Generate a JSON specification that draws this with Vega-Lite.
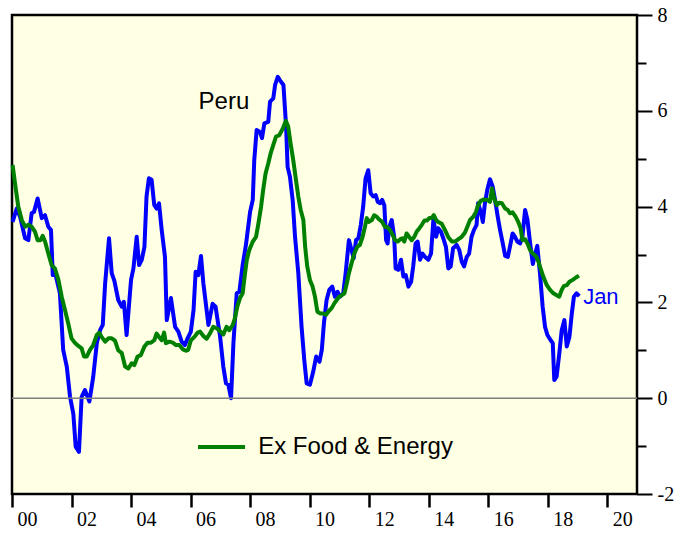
{
  "$schema": "https://vega.github.io/schema/vega-lite/v6.json",
  "width": 625,
  "height": 479,
  "padding": {"left": 10, "top": 5, "right": 5, "bottom": 0},
  "background": "white",
  "config": {"view": {"fill": "#FFFFE3", "stroke": "black", "strokeWidth": 2.5}},
  "datasets": {
    "blue": [
      {"t":2000.02,"v":3.68},{"t":2000.16,"v":3.96},{"t":2000.27,"v":3.79},{"t":2000.44,"v":3.34},{"t":2000.55,"v":3.30},
      {"t":2000.66,"v":3.86},{"t":2000.74,"v":3.89},{"t":2000.86,"v":4.17},{"t":2001.0,"v":3.76},{"t":2001.11,"v":3.82},
      {"t":2001.22,"v":3.58},{"t":2001.31,"v":3.51},{"t":2001.37,"v":2.57},{"t":2001.44,"v":2.64},{"t":2001.61,"v":2.19},
      {"t":2001.72,"v":1.01},{"t":2001.84,"v":0.66},{"t":2001.95,"v":0.03},{"t":2002.06,"v":-0.32},{"t":2002.14,"v":-1.01},
      {"t":2002.25,"v":-1.12},{"t":2002.34,"v":0.03},{"t":2002.45,"v":0.17},{"t":2002.6,"v":-0.07},{"t":2002.73,"v":0.45},
      {"t":2002.85,"v":1.15},{"t":2002.96,"v":1.42},{"t":2003.05,"v":1.53},{"t":2003.13,"v":2.40},{"t":2003.26,"v":3.34},
      {"t":2003.35,"v":2.61},{"t":2003.44,"v":2.45},{"t":2003.57,"v":2.05},{"t":2003.69,"v":1.91},{"t":2003.76,"v":2.01},
      {"t":2003.85,"v":1.32},{"t":2004.0,"v":2.47},{"t":2004.08,"v":2.71},{"t":2004.19,"v":3.37},{"t":2004.27,"v":2.78},
      {"t":2004.36,"v":2.89},{"t":2004.45,"v":3.16},{"t":2004.52,"v":4.21},{"t":2004.6,"v":4.59},{"t":2004.69,"v":4.56},
      {"t":2004.78,"v":4.03},{"t":2004.86,"v":3.96},{"t":2004.94,"v":4.07},{"t":2005.03,"v":3.51},{"t":2005.14,"v":2.95},
      {"t":2005.2,"v":1.63},{"t":2005.34,"v":2.09},{"t":2005.48,"v":1.49},{"t":2005.59,"v":1.39},{"t":2005.7,"v":1.18},
      {"t":2005.81,"v":1.11},{"t":2005.9,"v":1.25},{"t":2006.01,"v":1.39},{"t":2006.1,"v":1.84},{"t":2006.17,"v":2.64},
      {"t":2006.26,"v":2.57},{"t":2006.35,"v":2.97},{"t":2006.43,"v":2.40},{"t":2006.6,"v":1.53},{"t":2006.74,"v":1.97},
      {"t":2006.84,"v":1.91},{"t":2006.99,"v":1.30},{"t":2007.1,"v":0.66},{"t":2007.19,"v":0.31},{"t":2007.27,"v":0.28},
      {"t":2007.36,"v":0.0},{"t":2007.44,"v":1.15},{"t":2007.55,"v":2.19},{"t":2007.64,"v":2.22},{"t":2007.75,"v":2.78},
      {"t":2007.86,"v":3.20},{"t":2008.0,"v":3.89},{"t":2008.09,"v":4.14},{"t":2008.14,"v":4.97},{"t":2008.22,"v":5.60},
      {"t":2008.33,"v":5.56},{"t":2008.4,"v":5.43},{"t":2008.48,"v":5.74},{"t":2008.61,"v":5.77},{"t":2008.67,"v":6.19},
      {"t":2008.78,"v":6.26},{"t":2008.84,"v":6.54},{"t":2008.93,"v":6.71},{"t":2009.0,"v":6.64},{"t":2009.12,"v":6.54},
      {"t":2009.21,"v":5.67},{"t":2009.26,"v":4.83},{"t":2009.34,"v":4.62},{"t":2009.43,"v":4.14},{"t":2009.51,"v":3.37},
      {"t":2009.62,"v":2.61},{"t":2009.73,"v":1.49},{"t":2009.82,"v":0.80},{"t":2009.9,"v":0.31},{"t":2010.01,"v":0.28},
      {"t":2010.12,"v":0.55},{"t":2010.22,"v":0.87},{"t":2010.33,"v":0.76},{"t":2010.41,"v":1.01},{"t":2010.48,"v":1.56},
      {"t":2010.57,"v":2.05},{"t":2010.66,"v":2.26},{"t":2010.76,"v":2.33},{"t":2010.85,"v":2.12},{"t":2010.94,"v":2.22},
      {"t":2011.02,"v":2.12},{"t":2011.13,"v":2.19},{"t":2011.21,"v":2.61},{"t":2011.32,"v":3.30},{"t":2011.41,"v":3.09},
      {"t":2011.48,"v":2.92},{"t":2011.56,"v":3.30},{"t":2011.64,"v":3.34},{"t":2011.72,"v":3.62},{"t":2011.8,"v":4.0},
      {"t":2011.88,"v":4.59},{"t":2011.97,"v":4.76},{"t":2012.05,"v":4.28},{"t":2012.14,"v":4.21},{"t":2012.22,"v":4.24},
      {"t":2012.29,"v":4.10},{"t":2012.37,"v":4.07},{"t":2012.44,"v":4.14},{"t":2012.51,"v":4.03},{"t":2012.57,"v":3.30},
      {"t":2012.62,"v":3.23},{"t":2012.68,"v":3.58},{"t":2012.76,"v":3.72},{"t":2012.84,"v":3.37},{"t":2012.89,"v":2.71},
      {"t":2012.98,"v":2.68},{"t":2013.07,"v":2.89},{"t":2013.15,"v":2.54},{"t":2013.23,"v":2.57},{"t":2013.32,"v":2.33},
      {"t":2013.41,"v":2.43},{"t":2013.48,"v":2.75},{"t":2013.56,"v":3.23},{"t":2013.63,"v":3.27},{"t":2013.71,"v":2.89},
      {"t":2013.79,"v":3.02},{"t":2013.88,"v":2.95},{"t":2013.99,"v":2.89},{"t":2014.08,"v":3.02},{"t":2014.16,"v":3.74},
      {"t":2014.25,"v":3.37},{"t":2014.32,"v":3.55},{"t":2014.41,"v":3.48},{"t":2014.49,"v":3.34},{"t":2014.58,"v":3.16},
      {"t":2014.66,"v":2.71},{"t":2014.74,"v":2.75},{"t":2014.82,"v":3.13},{"t":2014.94,"v":3.20},{"t":2015.03,"v":3.09},
      {"t":2015.11,"v":2.85},{"t":2015.19,"v":2.75},{"t":2015.28,"v":2.95},{"t":2015.36,"v":3.02},{"t":2015.44,"v":3.37},
      {"t":2015.52,"v":3.51},{"t":2015.61,"v":3.62},{"t":2015.66,"v":4.07},{"t":2015.75,"v":3.89},{"t":2015.82,"v":3.68},
      {"t":2015.89,"v":4.07},{"t":2015.97,"v":4.35},{"t":2016.06,"v":4.57},{"t":2016.15,"v":4.42},{"t":2016.23,"v":4.14},
      {"t":2016.32,"v":3.79},{"t":2016.4,"v":3.51},{"t":2016.49,"v":3.23},{"t":2016.57,"v":2.97},{"t":2016.66,"v":2.95},
      {"t":2016.73,"v":3.16},{"t":2016.82,"v":3.44},{"t":2016.9,"v":3.37},{"t":2016.98,"v":3.27},{"t":2017.07,"v":3.23},
      {"t":2017.15,"v":3.37},{"t":2017.24,"v":3.93},{"t":2017.32,"v":3.72},{"t":2017.41,"v":3.23},{"t":2017.5,"v":2.80},
      {"t":2017.57,"v":3.00},{"t":2017.65,"v":3.18},{"t":2017.74,"v":2.61},{"t":2017.83,"v":1.91},{"t":2017.91,"v":1.49},
      {"t":2017.99,"v":1.32},{"t":2018.1,"v":1.21},{"t":2018.17,"v":1.15},{"t":2018.22,"v":0.38},{"t":2018.3,"v":0.45},
      {"t":2018.39,"v":0.94},{"t":2018.47,"v":1.42},{"t":2018.56,"v":1.63},{"t":2018.64,"v":1.08},{"t":2018.73,"v":1.28},
      {"t":2018.81,"v":1.77},{"t":2018.88,"v":2.12},{"t":2018.97,"v":2.19},{"t":2019.06,"v":2.13}
    ],
    "green": [
      {"t":2000.02,"v":4.87},{"t":2000.1,"v":4.49},{"t":2000.21,"v":4.0},{"t":2000.33,"v":3.72},{"t":2000.44,"v":3.58},
      {"t":2000.55,"v":3.62},{"t":2000.66,"v":3.58},{"t":2000.77,"v":3.48},{"t":2000.86,"v":3.30},{"t":2000.96,"v":3.30},
      {"t":2001.03,"v":3.39},{"t":2001.11,"v":3.27},{"t":2001.22,"v":3.02},{"t":2001.33,"v":2.78},{"t":2001.44,"v":2.71},
      {"t":2001.56,"v":2.47},{"t":2001.67,"v":2.12},{"t":2001.78,"v":1.84},{"t":2001.89,"v":1.56},{"t":2002.0,"v":1.25},
      {"t":2002.12,"v":1.15},{"t":2002.23,"v":1.09},{"t":2002.34,"v":1.04},{"t":2002.42,"v":0.87},{"t":2002.51,"v":0.87},
      {"t":2002.62,"v":1.01},{"t":2002.73,"v":1.11},{"t":2002.85,"v":1.32},{"t":2002.93,"v":1.37},{"t":2003.01,"v":1.28},
      {"t":2003.13,"v":1.18},{"t":2003.24,"v":1.25},{"t":2003.35,"v":1.25},{"t":2003.46,"v":1.20},{"t":2003.57,"v":1.0},
      {"t":2003.69,"v":0.94},{"t":2003.8,"v":0.66},{"t":2003.91,"v":0.62},{"t":2004.02,"v":0.73},{"t":2004.11,"v":0.69},
      {"t":2004.22,"v":0.87},{"t":2004.33,"v":0.90},{"t":2004.45,"v":1.08},{"t":2004.56,"v":1.16},{"t":2004.67,"v":1.16},
      {"t":2004.78,"v":1.21},{"t":2004.86,"v":1.35},{"t":2004.94,"v":1.28},{"t":2005.03,"v":1.21},{"t":2005.11,"v":1.37},
      {"t":2005.17,"v":1.15},{"t":2005.29,"v":1.18},{"t":2005.4,"v":1.16},{"t":2005.51,"v":1.11},{"t":2005.62,"v":1.11},
      {"t":2005.74,"v":1.02},{"t":2005.85,"v":0.99},{"t":2005.92,"v":1.01},{"t":2006.01,"v":1.21},{"t":2006.13,"v":1.28},
      {"t":2006.24,"v":1.37},{"t":2006.32,"v":1.39},{"t":2006.43,"v":1.30},{"t":2006.54,"v":1.24},{"t":2006.65,"v":1.35},
      {"t":2006.76,"v":1.49},{"t":2006.88,"v":1.46},{"t":2006.99,"v":1.40},{"t":2007.1,"v":1.33},{"t":2007.21,"v":1.49},
      {"t":2007.3,"v":1.42},{"t":2007.42,"v":1.53},{"t":2007.49,"v":1.67},{"t":2007.57,"v":1.91},{"t":2007.66,"v":2.09},
      {"t":2007.75,"v":2.19},{"t":2007.83,"v":2.61},{"t":2007.89,"v":2.89},{"t":2007.97,"v":3.09},{"t":2008.09,"v":3.27},
      {"t":2008.2,"v":3.37},{"t":2008.28,"v":3.65},{"t":2008.37,"v":4.0},{"t":2008.44,"v":4.35},{"t":2008.52,"v":4.69},
      {"t":2008.61,"v":4.90},{"t":2008.69,"v":5.11},{"t":2008.78,"v":5.29},{"t":2008.87,"v":5.46},{"t":2008.98,"v":5.49},
      {"t":2009.1,"v":5.63},{"t":2009.2,"v":5.79},{"t":2009.28,"v":5.67},{"t":2009.36,"v":5.32},{"t":2009.45,"v":4.97},
      {"t":2009.54,"v":4.56},{"t":2009.62,"v":4.21},{"t":2009.7,"v":3.93},{"t":2009.79,"v":3.72},{"t":2009.85,"v":3.16},
      {"t":2009.92,"v":2.75},{"t":2010.01,"v":2.47},{"t":2010.1,"v":2.33},{"t":2010.18,"v":2.12},{"t":2010.26,"v":1.81},
      {"t":2010.35,"v":1.77},{"t":2010.46,"v":1.77},{"t":2010.55,"v":1.74},{"t":2010.63,"v":1.81},{"t":2010.74,"v":1.88},
      {"t":2010.83,"v":1.98},{"t":2010.91,"v":2.05},{"t":2010.99,"v":2.12},{"t":2011.08,"v":2.15},{"t":2011.17,"v":2.19},
      {"t":2011.25,"v":2.40},{"t":2011.32,"v":2.61},{"t":2011.41,"v":2.82},{"t":2011.5,"v":3.02},{"t":2011.6,"v":3.16},
      {"t":2011.69,"v":3.20},{"t":2011.78,"v":3.37},{"t":2011.86,"v":3.58},{"t":2011.92,"v":3.76},{"t":2011.99,"v":3.68},
      {"t":2012.09,"v":3.72},{"t":2012.17,"v":3.82},{"t":2012.25,"v":3.79},{"t":2012.34,"v":3.73},{"t":2012.44,"v":3.68},
      {"t":2012.53,"v":3.58},{"t":2012.62,"v":3.57},{"t":2012.7,"v":3.51},{"t":2012.79,"v":3.41},{"t":2012.87,"v":3.30},
      {"t":2012.96,"v":3.27},{"t":2013.05,"v":3.32},{"t":2013.12,"v":3.34},{"t":2013.18,"v":3.27},{"t":2013.26,"v":3.44},
      {"t":2013.34,"v":3.37},{"t":2013.43,"v":3.30},{"t":2013.52,"v":3.37},{"t":2013.6,"v":3.48},{"t":2013.69,"v":3.55},
      {"t":2013.77,"v":3.62},{"t":2013.86,"v":3.71},{"t":2013.94,"v":3.71},{"t":2014.02,"v":3.76},{"t":2014.1,"v":3.76},
      {"t":2014.17,"v":3.82},{"t":2014.25,"v":3.72},{"t":2014.32,"v":3.68},{"t":2014.44,"v":3.64},{"t":2014.55,"v":3.51},
      {"t":2014.66,"v":3.36},{"t":2014.78,"v":3.27},{"t":2014.89,"v":3.27},{"t":2015.0,"v":3.32},{"t":2015.11,"v":3.37},
      {"t":2015.22,"v":3.46},{"t":2015.3,"v":3.58},{"t":2015.39,"v":3.72},{"t":2015.5,"v":3.79},{"t":2015.59,"v":3.89},
      {"t":2015.66,"v":4.03},{"t":2015.75,"v":4.12},{"t":2015.86,"v":4.15},{"t":2015.97,"v":4.14},{"t":2016.06,"v":4.10},
      {"t":2016.13,"v":4.38},{"t":2016.2,"v":4.17},{"t":2016.29,"v":4.03},{"t":2016.37,"v":4.08},{"t":2016.46,"v":4.07},
      {"t":2016.57,"v":3.96},{"t":2016.66,"v":3.93},{"t":2016.73,"v":3.86},{"t":2016.82,"v":3.88},{"t":2016.92,"v":3.79},
      {"t":2017.01,"v":3.68},{"t":2017.09,"v":3.55},{"t":2017.15,"v":3.30},{"t":2017.24,"v":3.32},{"t":2017.32,"v":3.23},
      {"t":2017.41,"v":3.09},{"t":2017.5,"v":3.02},{"t":2017.61,"v":2.96},{"t":2017.69,"v":2.85},{"t":2017.74,"v":2.75},
      {"t":2017.85,"v":2.54},{"t":2017.97,"v":2.36},{"t":2018.08,"v":2.26},{"t":2018.19,"v":2.19},{"t":2018.3,"v":2.15},
      {"t":2018.39,"v":2.12},{"t":2018.47,"v":2.26},{"t":2018.54,"v":2.34},{"t":2018.64,"v":2.36},{"t":2018.73,"v":2.43},
      {"t":2018.84,"v":2.47},{"t":2018.95,"v":2.52},{"t":2019.05,"v":2.56}
    ],
    "legendline": [{"t":2006.25,"t2":2007.83,"v":-1.02}],
    "blacklabels": [
      {"t":2006.27,"v":6.18,"label":"Peru"},
      {"t":2008.27,"v":-1.02,"label":"Ex Food & Energy"}
    ],
    "bluelabels": [{"t":2019.19,"v":2.11,"label":"Jan"}]
  },
  "layer": [
    {
      "data": {"name": "blue"},
      "mark": {"type": "line", "color": "#0000FF", "strokeWidth": 4, "strokeJoin": "round"},
      "encoding": {
        "x": {"field": "t", "type": "quantitative", "title": null,
          "scale": {"domain": [2000, 2021], "nice": false, "zero": false},
          "axis": {"title": null, "orient": "bottom", "domain": false, "grid": false,
            "values": [2000,2001,2002,2003,2004,2005,2006,2007,2008,2009,2010,2011,2012,2013,2014,2015,2016,2017,2018,2019,2020,2021],
            "labelExpr": "(datum.value % 2 == 0 && datum.value < 2021) ? substring(toString(datum.value), 2, 4) : ''",
            "labelOffset": 15, "labelAlign": "center", "labelPadding": 2,
            "tickSize": 13,
            "tickColor": "black", "tickWidth": 2.5,
            "labelFont": "Liberation Serif", "labelFontSize": 20, "labelColor": "black", "labelFlush": false, "labelOverlap": false}},
        "y": {"field": "v", "type": "quantitative", "title": null,
          "scale": {"domain": [-2, 8], "nice": false, "zero": false},
          "axis": {"title": null, "orient": "right", "domain": false, "grid": false,
            "values": [-2,-1,0,1,2,3,4,5,6,7,8],
            "labelExpr": "datum.value % 2 == 0 ? toString(datum.value) : ''",
            "tickSize": {"condition": {"test": "datum.value % 2 == 0", "value": 15}, "value": 9},
            "tickColor": "black", "tickWidth": 2, "labelPadding": 5,
            "labelFont": "Liberation Serif", "labelFontSize": 20, "labelColor": "black", "labelFlush": false, "labelOverlap": false}}
      }
    },
    {
      "data": {"values": [{}]},
      "mark": {"type": "rule", "color": "#7F7F7F", "strokeWidth": 1.5},
      "encoding": {"y": {"datum": 0, "type": "quantitative", "title": null}}
    },
    {
      "data": {"name": "green"},
      "mark": {"type": "line", "color": "#008000", "strokeWidth": 4, "strokeJoin": "round"},
      "encoding": {
        "x": {"field": "t", "type": "quantitative", "title": null},
        "y": {"field": "v", "type": "quantitative", "title": null}
      }
    },
    {
      "data": {"name": "legendline"},
      "mark": {"type": "rule", "color": "#008000", "strokeWidth": 4},
      "encoding": {
        "x": {"field": "t", "type": "quantitative", "title": null},
        "x2": {"field": "t2"},
        "y": {"field": "v", "type": "quantitative", "title": null}
      }
    },
    {
      "data": {"name": "blacklabels"},
      "mark": {"type": "text", "align": "left", "baseline": "middle", "font": "Liberation Sans", "fontSize": 24, "color": "black"},
      "encoding": {
        "x": {"field": "t", "type": "quantitative", "title": null},
        "y": {"field": "v", "type": "quantitative", "title": null},
        "text": {"field": "label"}
      }
    },
    {
      "data": {"name": "bluelabels"},
      "mark": {"type": "text", "align": "left", "baseline": "middle", "font": "Liberation Sans", "fontSize": 22, "color": "#0000FF"},
      "encoding": {
        "x": {"field": "t", "type": "quantitative", "title": null},
        "y": {"field": "v", "type": "quantitative", "title": null},
        "text": {"field": "label"}
      }
    }
  ]
}
